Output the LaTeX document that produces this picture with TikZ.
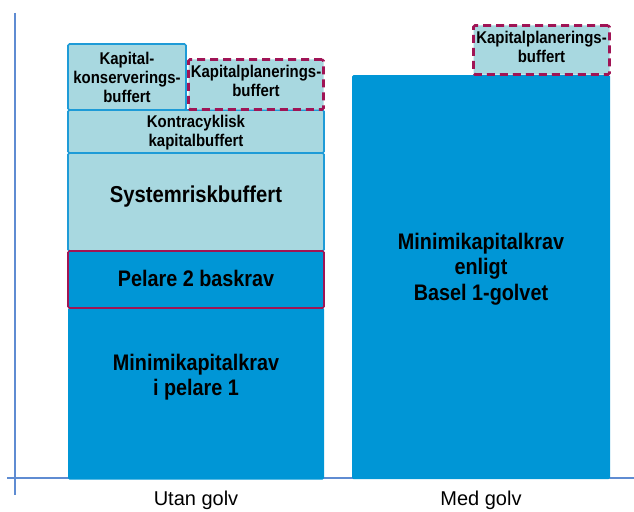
\documentclass[tikz,border=0pt]{standalone}
\usepackage{fontspec}
\setmainfont{Liberation Sans}[FakeStretch=0.88]
\newfontfamily\axisfont{Liberation Sans}
\usepackage{tikz}
\usetikzlibrary{arrows}

\definecolor{darkfill}{RGB}{0,150,214}
\definecolor{lightfill}{RGB}{168,216,224}
\definecolor{boxline}{RGB}{30,155,215}
\definecolor{plumline}{RGB}{160,20,85}
\definecolor{axisline}{RGB}{95,140,210}

\begin{document}
\begin{tikzpicture}[x=1pt,y=-1pt,
  dark box/.style={rectangle,fill=darkfill,draw=none,rounded corners=1.5pt,inner sep=0pt},
  light box/.style={rectangle,fill=lightfill,draw=boxline,line width=1.6pt,rounded corners=1.5pt,inner sep=0pt},
  plan box/.style={rectangle,fill=lightfill,draw=plumline,line width=2.6pt,dash pattern=on 8pt off 5pt,rounded corners=1.5pt,inner sep=0pt},
  lbl/.style={align=center,font=\bfseries,text=black},
  small lbl/.style={lbl,font=\bfseries\fontsize{17}{19}\selectfont},
  big lbl/.style={lbl,font=\bfseries\fontsize{22.5}{25.5}\selectfont},
  axis lbl/.style={font=\axisfont\fontsize{20}{22}\selectfont,text=black}]
  \useasboundingbox (0,0) rectangle (634,511);
  % axes
  \coordinate (ytop) at (15,13);
  \coordinate (ybot) at (15,495);
  \coordinate (xleft) at (7,478);
  \coordinate (xright) at (634,478);
  \draw[axisline,line width=1.2pt] (ytop) -- (ybot);
  \draw[axisline,line width=1.2pt] (xleft) -- (xright);
  % left bar
  \node[dark box,minimum width=256pt,minimum height=172pt] (minkrav) at (196,393.5) {};
  \node[light box,minimum width=256pt,minimum height=98pt] (sysrisk) at (196,202) {};
  \node[light box,minimum width=256pt,minimum height=43pt] (kontra) at (196,131.5) {};
  \node[light box,minimum width=118pt,minimum height=66pt] (konserv) at (127,77) {};
  \node[plan box,minimum width=135pt,minimum height=50pt] (planleft) at (256,84.5) {};
  \node[rectangle,fill=darkfill,draw=plumline,line width=1.6pt,rounded corners=1.5pt,
        minimum width=256pt,minimum height=57pt] (pelare) at (196,279.5) {};
  % right bar
  \node[dark box,minimum width=258pt,minimum height=404pt] (basel) at (481,277) {};
  \node[plan box,minimum width=136pt,minimum height=49pt] (planright) at (541.5,50) {};
  % texts
  \node[big lbl] (minkravtxt) at (196,377) {Minimikapitalkrav\\i pelare 1};
  \node[big lbl] (pelaretxt) at (196,278.5) {Pelare 2 baskrav};
  \node[lbl,font=\bfseries\fontsize{23}{26}\selectfont] (sysrisktxt) at (196,197) {Systemriskbuffert};
  \node[small lbl] (kontratxt) at (196,132.5) {Kontracyklisk\\kapitalbuffert};
  \node[small lbl] (konservtxt) at (127,77) {Kapital-\\konserverings-\\buffert};
  \node[small lbl] (planlefttxt) at (256,81) {Kapitalplanerings-\\buffert};
  \node[small lbl] (planrighttxt) at (541.5,47) {Kapitalplanerings-\\buffert};
  \node[big lbl] (baseltxt) at (481,269) {Minimikapitalkrav\\enligt\\Basel 1-golvet};
  \node[axis lbl] (utan) at (196,500) {Utan golv};
  \node[axis lbl] (med) at (481,500) {Med golv};
\end{tikzpicture}
\end{document}
